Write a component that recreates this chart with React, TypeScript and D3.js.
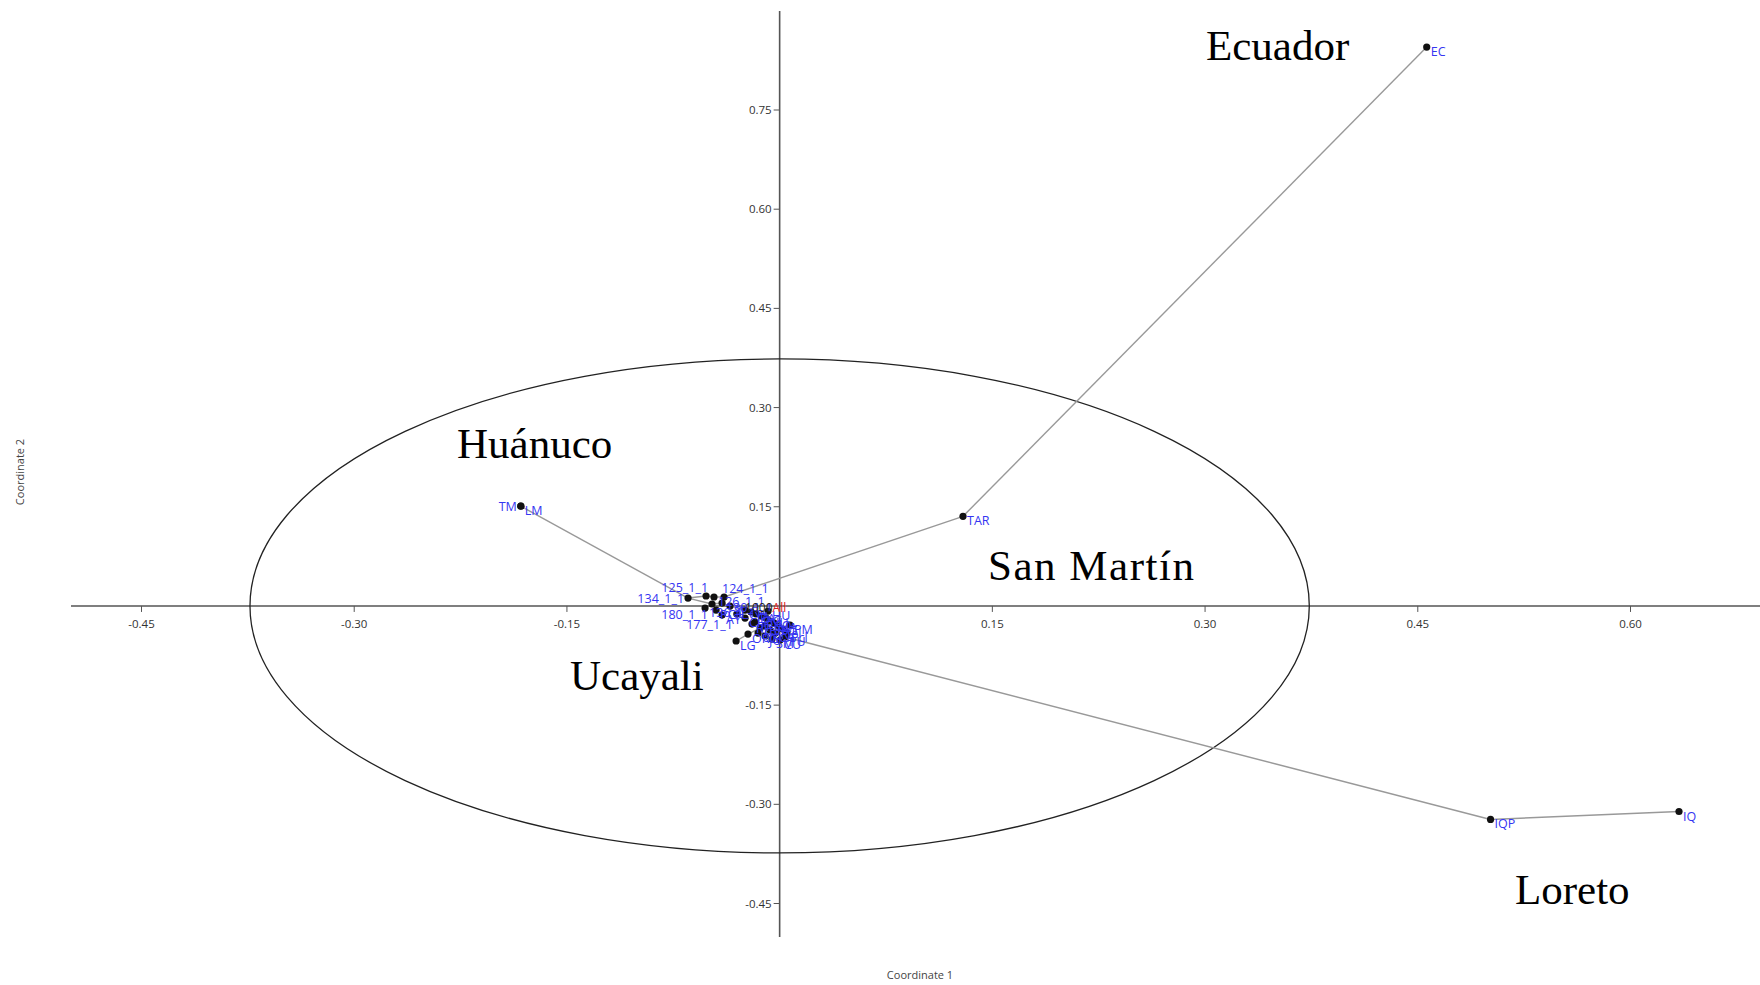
import React from "react";
import * as d3 from "d3";

// PCoA scores (Coordinate 1, Coordinate 2) for each sampled population
const outerLabels = ["EC", "TAR", "TM", "LM", "IQP", "IQ"];
const outerC1 = [0.4563, 0.1293, -0.1825, -0.1825, 0.5013, 0.6342];
const outerC2 = [0.8451, 0.1355, 0.1508, 0.1508, -0.3229, -0.3109];

const clusterLabels = [
  "134_1_1", "125_1_1", "126_1_1", "124_1_1", "180_1_1", "130_1_1", "SJ",
  "177_1_1", "CP", "YA", "PA", "AG", "NU", "CO", "MA", "AT", "fel", "Pcl",
  "PU", "ORG", "LG", "IT", "SR", "TI", "BR", "CA", "HU",
  "136_1_1", "PCH", "AY", "CH", "RP", "OX", "JU", "SM", "CU", "PM",
];
const clusterC1 = [
  -0.0646, -0.0519, -0.0463, -0.0392, -0.0477, -0.0406, -0.035,
  -0.0302, -0.0244, -0.0202, -0.0166, -0.0131, -0.0096, -0.0068, -0.0039, -0.0011, 0.0024, 0.0052,
  0.0038, -0.0223, -0.0307, -0.0138, -0.0068, -0.0173, -0.0103, -0.0032, -0.0082,
  -0.0526, -0.0448, -0.0406, -0.0244, -0.0195, -0.0152, -0.0103, -0.0054, 0.0003, 0.0073,
];
const clusterC2 = [
  0.0119, 0.015, 0.0135, 0.0135, 0.0029, 0.0044, -0.0002,
  -0.0123, -0.0062, -0.0092, -0.0122, -0.0153, -0.0183, -0.0228, -0.0258, -0.0304, -0.0349, -0.041,
  -0.047, -0.0425, -0.053, -0.0334, -0.0364, -0.0244, -0.0304, -0.041, -0.0077,
  -0.0032, -0.0062, -0.0138, -0.0183, -0.0274, -0.041, -0.0455, -0.0501, -0.0516, -0.0289,
];

// Minimum spanning tree links
const treeEdges: [string, string][] = [
  ["EC", "TAR"], ["TAR", "124_1_1"], ["TM", "134_1_1"], ["IQP", "PU"], ["IQP", "IQ"],
  ["134_1_1", "125_1_1"], ["125_1_1", "126_1_1"], ["126_1_1", "124_1_1"],
  ["134_1_1", "180_1_1"], ["180_1_1", "130_1_1"], ["130_1_1", "SJ"], ["SJ", "CP"],
  ["CP", "YA"], ["YA", "PA"], ["PA", "AG"], ["AG", "NU"], ["NU", "CO"], ["CO", "MA"],
  ["MA", "AT"], ["AT", "fel"], ["fel", "Pcl"], ["Pcl", "PU"], ["ORG", "LG"], ["ORG", "IT"],
];

// Label side for points whose names sit off the default lower-right spot
const labelSide: Record<string, string> = {
  TM: "left",
  "134_1_1": "left",
  "125_1_1": "aboveLeft",
  "124_1_1": "aboveRight",
  "180_1_1": "belowLeft",
  "177_1_1": "belowLeft",
};

const xTicks = [-0.45, -0.3, -0.15, 0.15, 0.3, 0.45, 0.6];
const yTicks = [0.75, 0.6, 0.45, 0.3, 0.15, -0.15, -0.3, -0.45];

const confidenceRadius = 0.3735;

const regionNames = ["Ecuador", "Huánuco", "San Martín", "Ucayali", "Loreto"];
const regionPos: [number, number][] = [
  [1206, 60], [457, 458], [988, 580], [570, 690], [1515, 904],
];

const W = 1760;
const H = 985;

export default function App() {
  const x = d3.scaleLinear().domain([-0.45, 0.6]).range([141.5, 1630.5]);
  const y = d3.scaleLinear().domain([-0.45, 0.75]).range([903.5, 110]);
  const x0 = x(0);
  const y0 = y(0);

  const pts = [
    ...outerLabels.map((l, i) => ({ label: l, c1: outerC1[i], c2: outerC2[i] })),
    ...clusterLabels.map((l, i) => ({ label: l, c1: clusterC1[i], c2: clusterC2[i] })),
  ];
  const byLabel = new Map(pts.map((p) => [p.label, p]));

  const fmt = (v: number) => v.toFixed(2);
  const tickFont = "'Open Sans', 'DejaVu Sans', sans-serif";
  const blue = "#3535f2";

  const labelAttrs = (label: string, px: number, py: number) => {
    const side = labelSide[label] || "right";
    switch (side) {
      case "left":
        return { x: px - 4, y: py + 5, anchor: "end" };
      case "aboveLeft":
        return { x: px + 2, y: py - 4, anchor: "end" };
      case "aboveRight":
        return { x: px - 2, y: py - 4, anchor: "start" };
      case "belowLeft":
        return { x: px - 4, y: py + 15, anchor: "end" };
      default:
        return { x: px + 4, y: py + 9, anchor: "start" };
    }
  };

  return (
    <svg
      width={W}
      height={H}
      style={{ position: "absolute", left: 0, top: 0, background: "#fff" }}
    >
      {/* axes */}
      <line x1={71} x2={W} y1={y0} y2={y0} stroke="#555" strokeWidth={1.6} />
      <line x1={x0} x2={x0} y1={11} y2={937} stroke="#555" strokeWidth={1.6} />

      {xTicks.map((t) => (
        <g key={"xt" + t}>
          <line x1={x(t)} x2={x(t)} y1={y0} y2={y0 + 6} stroke="#555" strokeWidth={1} />
          <text
            x={x(t)}
            y={y0 + 22}
            textAnchor="middle"
            fontSize={11.5}
            fontFamily={tickFont}
            fill="#333"
          >
            {fmt(t)}
          </text>
        </g>
      ))}
      {yTicks.map((t) => (
        <g key={"yt" + t}>
          <line x1={x0 - 6} x2={x0} y1={y(t)} y2={y(t)} stroke="#555" strokeWidth={1} />
          <text
            x={x0 - 8}
            y={y(t) + 4}
            textAnchor="end"
            fontSize={11.5}
            fontFamily={tickFont}
            fill="#333"
          >
            {fmt(t)}
          </text>
        </g>
      ))}

      <text x={920} y={979} textAnchor="middle" fontSize={11} fontFamily={tickFont} fill="#444">
        Coordinate 1
      </text>
      <text
        transform={`translate(24,472) rotate(-90)`}
        textAnchor="middle"
        fontSize={11}
        fontFamily={tickFont}
        fill="#444"
      >
        Coordinate 2
      </text>

      {/* confidence ellipse */}
      <ellipse
        cx={x0}
        cy={y0}
        rx={x(confidenceRadius) - x0}
        ry={y0 - y(confidenceRadius)}
        fill="none"
        stroke="#222"
        strokeWidth={1.3}
      />

      {/* spanning tree */}
      {treeEdges.map(([a, b], i) => {
        const p = byLabel.get(a)!;
        const q = byLabel.get(b)!;
        return (
          <line
            key={"e" + i}
            x1={x(p.c1)}
            y1={y(p.c2)}
            x2={x(q.c1)}
            y2={y(q.c2)}
            stroke="#999"
            strokeWidth={1.4}
          />
        );
      })}

      {/* points */}
      {pts.map((p) => (
        <circle key={"p" + p.label} cx={x(p.c1)} cy={y(p.c2)} r={3.6} fill="#111" />
      ))}

      {/* point labels */}
      {pts.map((p) => {
        const a = labelAttrs(p.label, x(p.c1), y(p.c2));
        return (
          <text
            key={"l" + p.label}
            x={a.x}
            y={a.y}
            textAnchor={a.anchor}
            fontSize={12.5}
            fontFamily={tickFont}
            fill={blue}
          >
            {p.label}
          </text>
        );
      })}

      {/* centroid marker text */}
      <text x={x(-0.005)} y={y0 + 6} textAnchor="end" fontSize={12} fontFamily={tickFont} fill="#222">
        1000
      </text>
      <text x={x(-0.005)} y={y0 + 6} textAnchor="start" fontSize={12} fontFamily={tickFont} fill="#e02020">
        All
      </text>

      {/* region annotations */}
      {regionNames.map((n, i) => (
        <text
          key={n}
          x={regionPos[i][0]}
          y={regionPos[i][1]}
          fontSize={43}
          fontFamily="'Liberation Serif', 'Times New Roman', serif"
          fill="#000"
          textLength={n === "San Martín" ? 206 : undefined}
        >
          {n}
        </text>
      ))}
    </svg>
  );
}
